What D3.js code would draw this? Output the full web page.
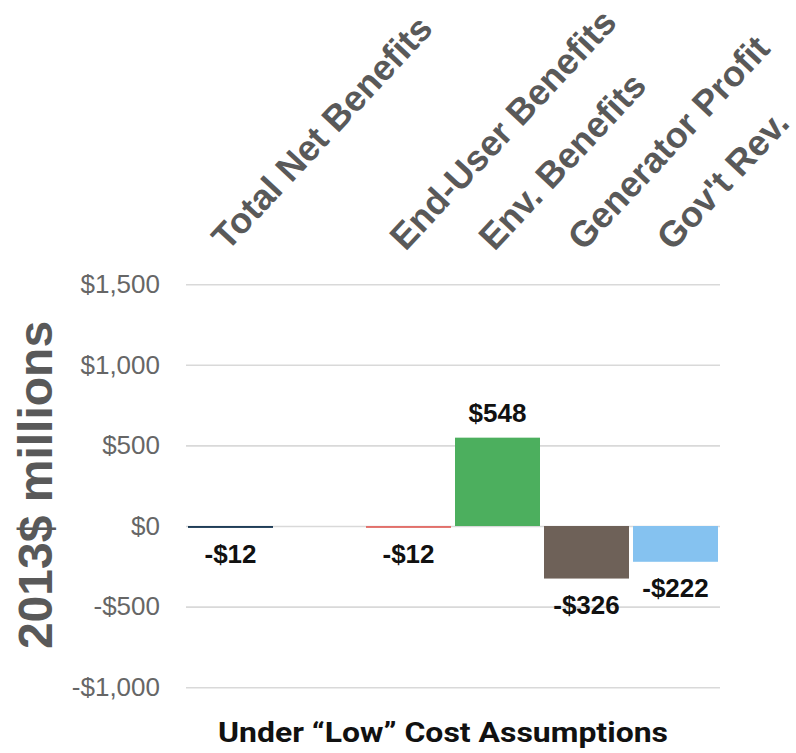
<!DOCTYPE html>
<html>
<head>
<meta charset="utf-8">
<script src="https://cdn.jsdelivr.net/npm/d3@7"></script>
<style>
  html, body { margin: 0; padding: 0; background: #ffffff; }
  svg { display: block; }
</style>
</head>
<body>
<svg id="chart" width="796" height="753"></svg>
<script>
// Benefit and cost components, 2013$ millions (second slot is an intentional gap)
const categories = ["Total Net Benefits", " ", "End-User Benefits", "Env. Benefits", "Generator Profit", "Gov't Rev."];
const values = [-12, null, -12, 548, -326, -222];
const barColors = ["#1f3d57", null, "#e2706b", "#4caf5e", "#6e6158", "#85c2f0"];
const yTicks = [-1000, -500, 0, 500, 1000, 1500];
const yTitle = "2013$ millions";
const chartTitle = "Under \u201cLow\u201d Cost Assumptions";

const svg = d3.select("#chart");
const plot = { left: 186, right: 720, top: 284.2, bottom: 687.2 };

const x = d3.scaleBand()
  .domain(categories)
  .range([plot.left, plot.right])
  .paddingInner(0.045)
  .paddingOuter(0.0225);

const y = d3.scaleLinear()
  .domain([-1000, 1500])
  .range([plot.bottom, plot.top]);

const money = v => (v < 0 ? "-$" : "$") + d3.format(",")(Math.abs(v));

// Gridlines + tick labels
const yAxis = d3.axisLeft(y)
  .tickValues(yTicks)
  .tickFormat(money)
  .tickSize(-(plot.right - plot.left))
  .tickPadding(26);

const gy = svg.append("g")
  .attr("transform", `translate(${plot.left},0)`)
  .call(yAxis);
gy.select(".domain").remove();
gy.selectAll(".tick line")
  .attr("stroke", "#d9d9d9")
  .attr("stroke-width", 1.6);
gy.selectAll(".tick text")
  .attr("fill", "#666666")
  .style("font-family", "'Liberation Sans', Arial, sans-serif")
  .style("font-size", "26px");

// Y axis title
svg.append("text")
  .attr("transform", "translate(52,485) rotate(-90)")
  .attr("text-anchor", "middle")
  .attr("fill", "#595959")
  .style("font-family", "'Liberation Sans', Arial, sans-serif")
  .style("font-weight", "bold")
  .style("font-size", "48px")
  .text(yTitle);

const rows = categories.map((c, i) => ({ c, v: values[i], color: barColors[i] }))
  .filter(d => d.v !== null);

// Bars
svg.append("g").selectAll("rect")
  .data(rows)
  .join("rect")
  .attr("x", d => x(d.c))
  .attr("width", x.bandwidth())
  .attr("y", d => y(Math.max(0, d.v)))
  .attr("height", d => Math.abs(y(d.v) - y(0)))
  .attr("fill", d => d.color);

// Value labels
svg.append("g").selectAll("text")
  .data(rows)
  .join("text")
  .attr("x", d => x(d.c) + x.bandwidth() / 2)
  .attr("y", d => d.v >= 0 ? y(d.v) - 16 : y(d.v) + 35)
  .attr("text-anchor", "middle")
  .attr("fill", "#111111")
  .style("font-family", "'Liberation Sans', Arial, sans-serif")
  .style("font-weight", "bold")
  .style("font-size", "26px")
  .text(d => money(d.v));

// Rotated category labels above the plot
svg.append("g").selectAll("text")
  .data(categories.filter(c => c.trim() !== ""))
  .join("text")
  .attr("transform", c => `translate(${x(c) + x.bandwidth() / 2 - 3},252) rotate(-47)`)
  .attr("text-anchor", "start")
  .attr("fill", "#595959")
  .style("font-family", "'Liberation Sans', Arial, sans-serif")
  .style("font-weight", "bold")
  .style("font-size", "36px")
  .text(c => c);

// Chart title
svg.append("text")
  .attr("x", 443)
  .attr("y", 742)
  .attr("text-anchor", "middle")
  .attr("textLength", 450)
  .attr("lengthAdjust", "spacingAndGlyphs")
  .attr("fill", "#111111")
  .style("font-family", "Roboto, 'Liberation Sans', sans-serif")
  .style("font-weight", "bold")
  .style("font-size", "28px")
  .text(chartTitle);
</script>
</body>
</html>
